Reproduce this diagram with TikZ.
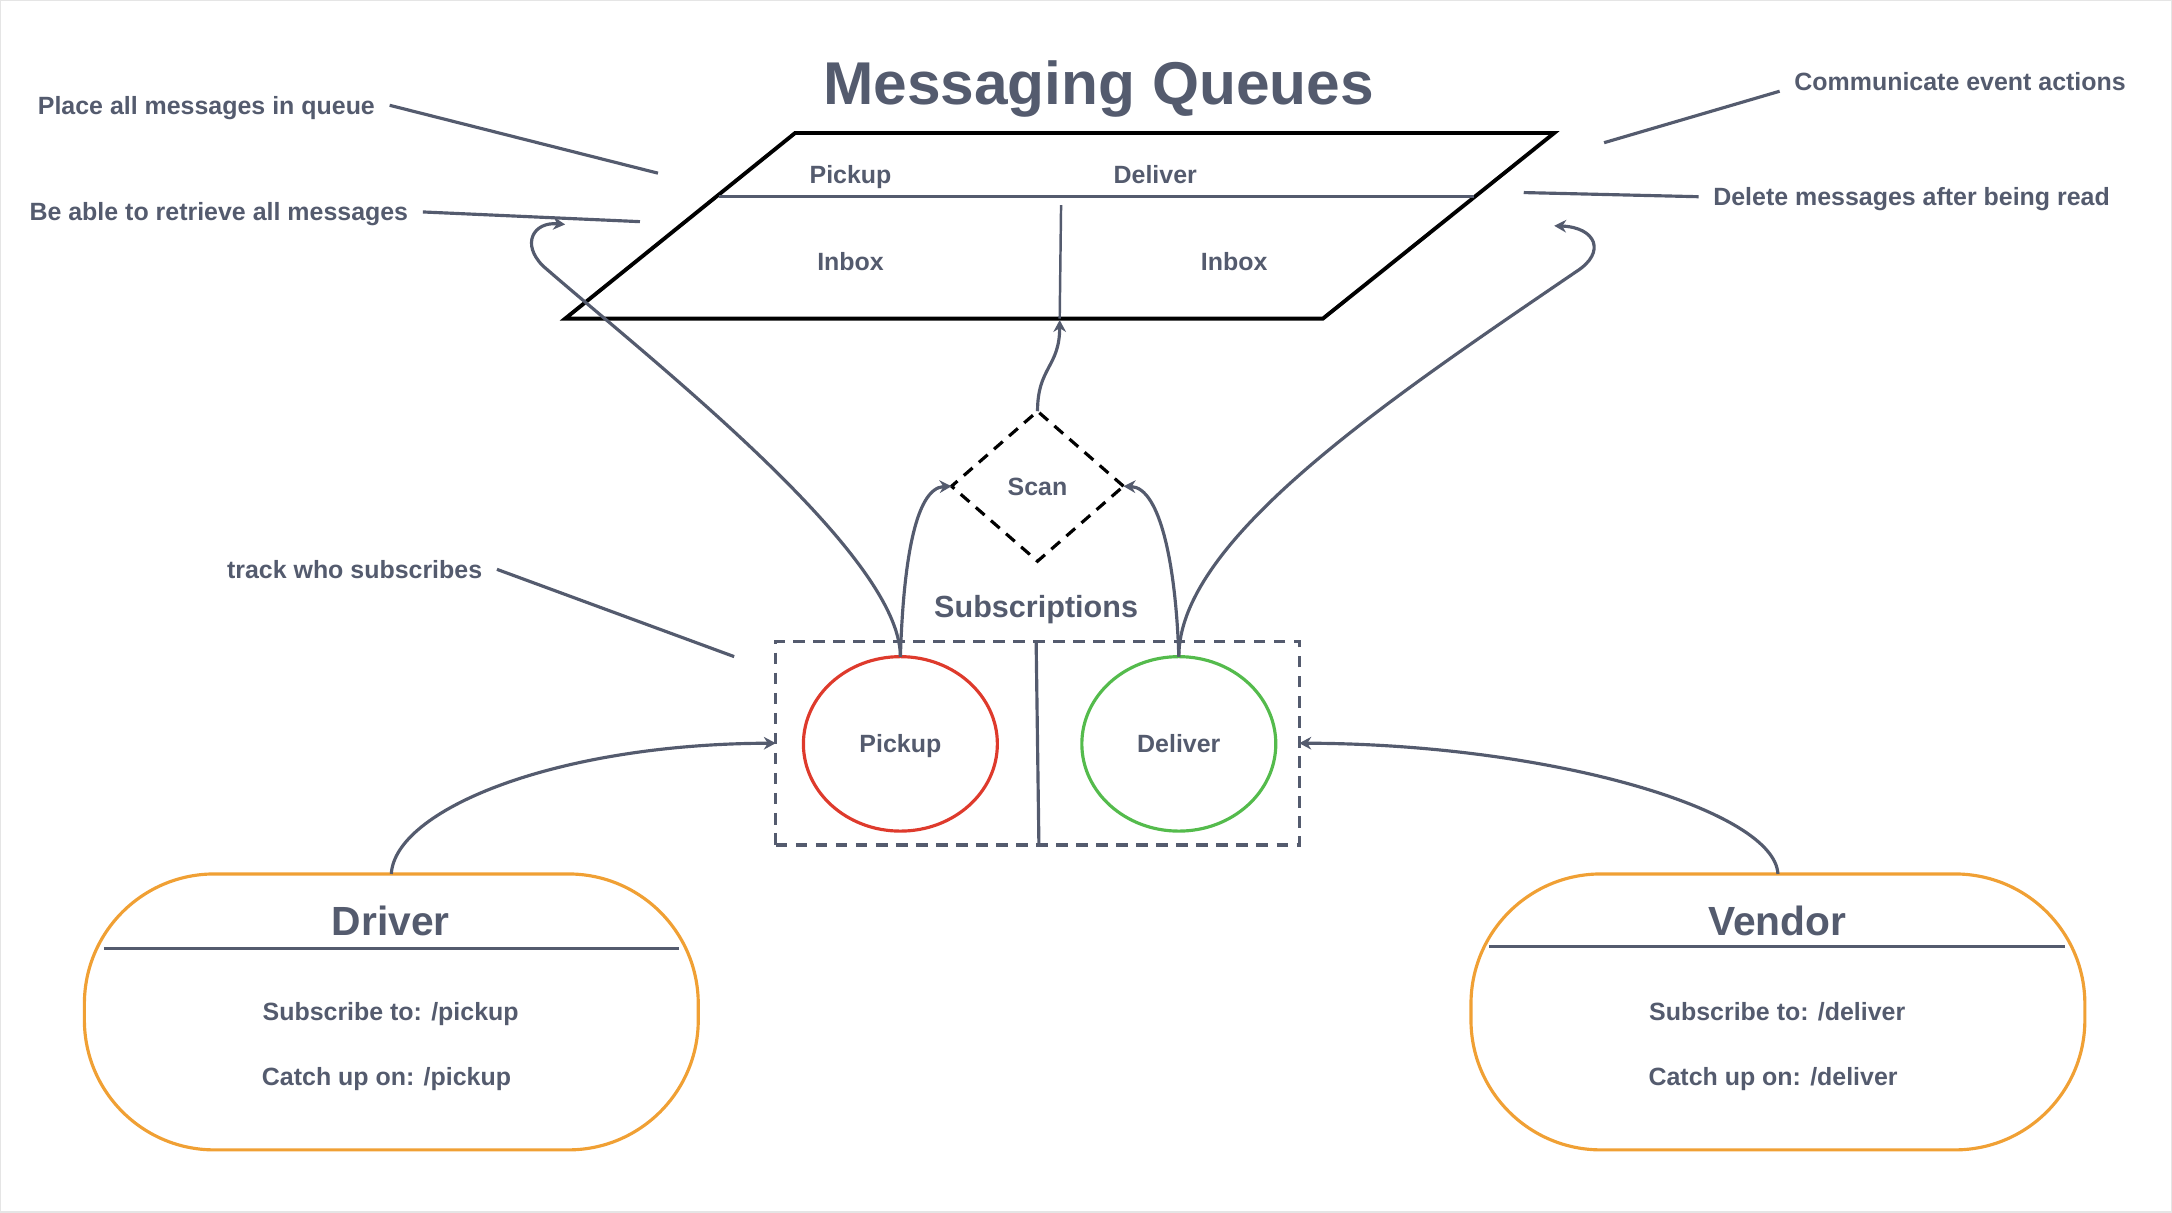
\documentclass[tikz,border=0pt]{standalone}
\usepackage{fontspec}
\setmainfont{Liberation Sans}
\usepackage{tikz}
\usetikzlibrary{arrows.meta,shapes.geometric,positioning}
\definecolor{slate}{RGB}{84,91,110}
\definecolor{pickred}{RGB}{222,58,44}
\definecolor{delgreen}{RGB}{84,187,76}
\definecolor{userorange}{RGB}{240,160,52}
\tikzstyle{note}      = [font=\fontsize{7.1}{8}\selectfont\bfseries, text=slate, inner sep=4pt, text height=5.1pt, text depth=0pt]
\tikzstyle{headline}  = [font=\fontsize{17.2}{20}\selectfont\bfseries, text=slate, text height=12.3pt, text depth=0pt]
\tikzstyle{heading}   = [font=\fontsize{11.6}{13}\selectfont\bfseries, text=slate, text height=8.3pt, text depth=0pt]
\tikzstyle{conn}      = [draw=slate, line width=0.9pt]
\tikzstyle{arrow}     = [conn, -{Stealth[length=3.4pt,width=3.6pt]}]
\tikzstyle{topic}     = [ellipse, draw, line width=0.9pt, minimum width=1.94cm, minimum height=1.745cm, outer sep=0pt, note]
\tikzstyle{client}    = [rectangle, draw=userorange, line width=0.9pt, rounded corners=1.3cm, minimum width=6.14cm, minimum height=2.76cm, outer sep=0pt]

\begin{document}
\begin{tikzpicture}[x=0.013852cm, y=-0.013852cm]
		\useasboundingbox (0,0) rectangle (1568,875);
		\draw[black!10, line width=0.8pt] (0,0) rectangle (1568,875);

		% queue
		\node[headline] (title) at (793,60) {Messaging Queues};
		\coordinate (qtl) at (574,96);
		\coordinate (qtr) at (1122,96);
		\coordinate (qbr) at (955,230);
		\coordinate (qbl) at (408,230);
		\draw[black, line width=1.1pt] (qtl) -- (qtr) -- (qbr) -- (qbl) -- cycle;
		\draw[conn] (519,142) -- (1064,142);
		\draw[conn, line width=0.7pt] (766,148) -- (765,230);
		\node[note] (qpick) at (614,126) {Pickup};
		\node[note] (qdeliver) at (834,126) {Deliver};
		\node[note] (qinboxl) at (614,189) {Inbox};
		\node[note] (qinboxr) at (891,189) {Inbox};
		\coordinate (qin) at (765,231);
		\coordinate (hookl) at (408,162);
		\coordinate (hookr) at (1122,163);

		% notes
		\node[note] (placeall) at (149,76) {Place all messages in queue};
		\node[note] (retrieve) at (158,153) {Be able to retrieve all messages};
		\node[note] (communicate) at (1415,59) {Communicate event actions};
		\node[note] (delete) at (1380,142) {Delete messages after being read};
		\node[note] (track) at (256,411) {track who subscribes};
		\coordinate (placeend) at (475,125);
		\coordinate (retrieveend) at (462,160);
		\coordinate (communicateend) at (1158,103);
		\coordinate (deleteend) at (1100,139);
		\coordinate (trackend) at (530,474);
		\draw[conn] (placeall.east) -- (placeend);
		\draw[conn] (retrieve.east) -- (retrieveend);
		\draw[conn] ([yshift=-2.7pt]communicate.west) -- (communicateend);
		\draw[conn] (delete.west) -- (deleteend);
		\draw[conn] (track.east) -- (trackend);

		% scan and subscriptions
		\node[diamond, draw=black, dashed, dash pattern=on 3.3pt off 2.4pt, line width=0.9pt, aspect=1.15,
			minimum width=1.72cm, minimum height=1.5cm, inner sep=0pt, outer sep=0pt, note] (scan) at (749,351) {Scan};
		\node[font=\fontsize{8.7}{10}\selectfont\bfseries, text=slate, text height=6.2pt, text depth=0pt] (sublabel) at (748,438) {Subscriptions};
		\node[draw=slate, dash pattern=on 3.3pt off 2.4pt, line width=0.9pt, minimum width=5.236cm,
			minimum height=2.036cm, outer sep=0pt] (subs) at (749,536.5) {};
		\draw[conn] (748,463) -- (750,610);
		\node[topic, draw=pickred] (pickup) at (650,537) {Pickup};
		\node[topic, draw=delgreen] (deliver) at (851,537) {Deliver};

		% clients
		\node[client] (driver) at (282.5,730.5) {};
		\draw[conn] (75,685) -- (490,685);
		\node[heading] (drivername) at (282,665) {Driver};
		\node[note] (driversub) at (282,730) {Subscribe to: /pickup};
		\node[note] (drivercatch) at (279,777) {Catch up on: /pickup};

		\node[client] (vendor) at (1283.5,730.5) {};
		\draw[conn] (1075,683) -- (1491,683);
		\node[heading] (vendorname) at (1283,665) {Vendor};
		\node[note] (vendorsub) at (1283,730) {Subscribe to: /deliver};
		\node[note] (vendorcatch) at (1280,777) {Catch up on: /deliver};

		% arrows
		\draw[arrow] (driver.north) .. controls (285,585) and (400,537) .. (subs.west);
		\draw[arrow] (vendor.north) .. controls (1281,585) and (1120,537) .. (subs.east);
		\draw[arrow] (pickup.north) .. controls (652,410) and (660,352) .. (scan.west);
		\draw[arrow] (deliver.north) .. controls (849,410) and (838,352) .. (scan.east);
		\draw[arrow] (scan.north) .. controls (749,265) and (765,265) .. (qin);
		\draw[arrow] (pickup.north) .. controls (650,400) and (470,260) .. (392,192)
			.. controls (376,176) and (385,160) .. (hookl);
		\draw[arrow] (deliver.north) .. controls (851,390) and (1000,290) .. (1138,196)
			.. controls (1160,182) and (1152,164) .. (hookr);
	\end{tikzpicture}
\end{document}
